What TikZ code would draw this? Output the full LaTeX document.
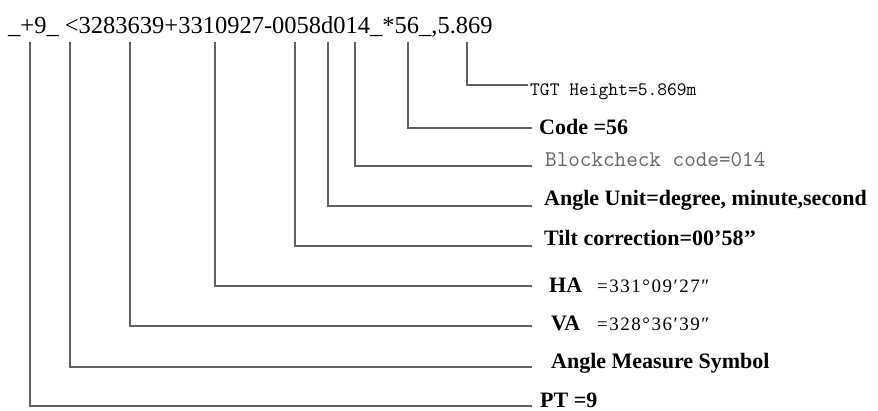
\documentclass[tikz,border=0pt]{standalone}
\usepackage{fontspec}
\setmainfont{Liberation Serif}
\newfontfamily\valfont[LetterSpace=8]{Liberation Serif}
\begin{document}
\begin{tikzpicture}[x=1pt,y=-1pt,
  ln/.style={draw=black!62, line width=1.3pt},
  lbl/.style={inner sep=0pt, anchor=base west, font=\fontsize{22}{24}\selectfont\bfseries},
  val/.style={inner sep=0pt, anchor=base west, font=\valfont\fontsize{19}{21}\selectfont},
  mono/.style={inner sep=0pt, anchor=base west},
  top/.style={inner sep=0pt, anchor=base west, font=\fontsize{24.5}{26}\selectfont}]
\useasboundingbox[fill=white] (0,0) rectangle (878,410);
% data string
\node[top] (str) at (8,33) {\_+9\_ <3283639+3310927-0058d014\_*56\_,5.869};
% tick tops
\coordinate (tPT) at (30,42);
\coordinate (tAMS) at (70,42);
\coordinate (tVA) at (130,42);
\coordinate (tHA) at (215,42);
\coordinate (tTilt) at (295,42);
\coordinate (tAU) at (328,42);
\coordinate (tBlk) at (355,42);
\coordinate (tCode) at (408,42);
\coordinate (tTGT) at (467,42);
% labels
\node[mono, font=\fontsize{19}{21}\selectfont\ttfamily] (TGT) at (530,95) {TGT Height=5.869m};
\node[lbl] (Code) at (539,134) {Code =56};
\node[mono, text=black!60, font=\fontsize{22.5}{24}\selectfont\ttfamily] (Blk) at (545,166) {Blockcheck code=014};
\node[lbl] (AU) at (544,205) {Angle Unit=degree, minute,second};
\node[lbl] (Tilt) at (544,245) {Tilt correction=00’58{’}{’}};
\node[lbl] (HA) at (549,292) {HA};
\node[val] (HAv) at (597,292) {=331°09′27″};
\node[lbl] (VA) at (551,330) {VA};
\node[val] (VAv) at (597,330) {=328°36′39″};
\node[lbl] (AMS) at (551,368) {Angle Measure Symbol};
\node[lbl] (PT) at (540,407) {PT =9};
% connectors
\draw[ln] (tTGT) |- ([xshift=-2pt,yshift=10pt]TGT.base west);
\draw[ln] (tCode) |- ([xshift=-7pt,yshift=6pt]Code.base west);
\draw[ln] (tBlk) |- ([xshift=-13pt,yshift=0pt]Blk.base west);
\draw[ln] (tAU) |- ([xshift=-12pt,yshift=-1pt]AU.base west);
\draw[ln] (tTilt) |- ([xshift=-12pt,yshift=-1pt]Tilt.base west);
\draw[ln] (tHA) |- ([xshift=-17pt,yshift=6pt]HA.base west);
\draw[ln] (tVA) |- ([xshift=-19pt,yshift=4pt]VA.base west);
\draw[ln] (tAMS) |- ([xshift=-19pt,yshift=1pt]AMS.base west);
\draw[ln] (tPT) |- ([xshift=-8pt,yshift=1pt]PT.base west);
\end{tikzpicture}
\end{document}
